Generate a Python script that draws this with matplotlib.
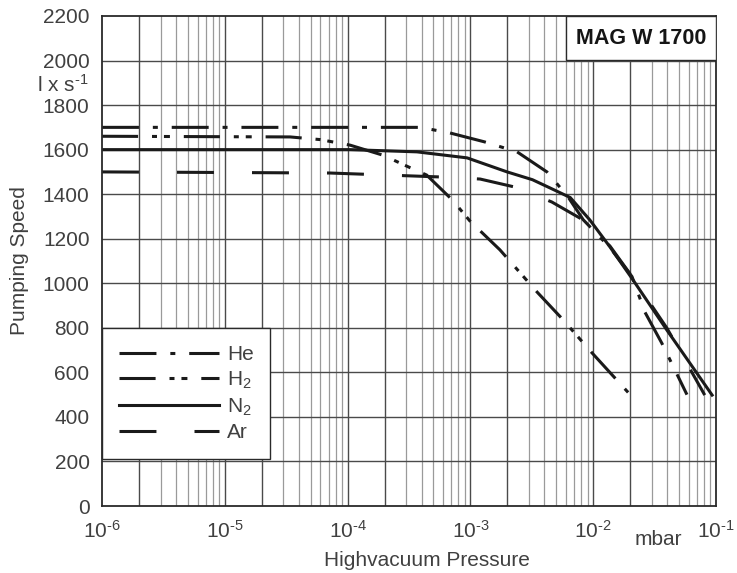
import numpy as np
import matplotlib
matplotlib.use("Agg")
import matplotlib.pyplot as plt
from matplotlib.patches import Rectangle
from matplotlib.ticker import LogLocator, FixedLocator, FuncFormatter

plt.rcParams['font.family'] = ['Liberation Sans', 'DejaVu Sans']
plt.rcParams['mathtext.fontset'] = 'custom'
plt.rcParams['mathtext.rm'] = 'Liberation Sans'
plt.rcParams['mathtext.it'] = 'Liberation Sans:italic'
plt.rcParams['mathtext.bf'] = 'Liberation Sans:bold'
plt.rcParams['axes.unicode_minus'] = False
plt.rcParams['lines.scale_dashes'] = False

# ==============================
# data (pressure in mbar, speed in l/s)
# ==============================
he_p = [1.0e-6, 3.9e-4, 6.8e-4, 1.3e-3, 2.4e-3, 4.2e-3, 6.2e-3, 8.3e-3,
        1.37e-2, 2.07e-2, 2.64e-2, 3.63e-2, 5.8e-2]
he_s = [1700, 1700, 1675, 1635, 1590, 1500, 1390, 1285,
        1160, 1030, 870, 730, 500]

h2_p = [1.0e-6, 3.4e-5, 6.0e-5, 1.05e-4, 1.94e-4, 3.2e-4, 4.4e-4, 7.1e-4,
        9.9e-4, 1.74e-3, 3.5e-3, 5.6e-3, 9.8e-3, 2.0e-2]
h2_s = [1660, 1657, 1645, 1620, 1575, 1520, 1486, 1375,
        1280, 1150, 960, 840, 687, 500]

n2_p = [1.0e-6, 1.05e-4, 3.67e-4, 9.4e-4, 1.99e-3, 3.2e-3, 4.45e-3, 6.5e-3,
        9.4e-3, 1.37e-2, 2.11e-2, 3.98e-2, 9.3e-2]
n2_s = [1600, 1600, 1590, 1563, 1500, 1465, 1428, 1385,
        1284, 1163, 1015, 790, 498]

ar_p = [1.0e-6, 7.2e-5, 5.9e-4, 1.2e-3, 2.3e-3, 4.6e-3, 8.3e-3,
        1.37e-2, 2.11e-2, 3.98e-2, 8.1e-2]
ar_s = [1500, 1495, 1477, 1468, 1432, 1365, 1284,
        1167, 1024, 799, 498]

gas_labels = ['He', 'H$_2$', 'N$_2$', 'Ar']
y_ticks = [0, 200, 400, 600, 800, 1000, 1200, 1400, 1600, 1800, 2000, 2200]
title_text = 'MAG W 1700'

# ==============================
# figure
# ==============================
fig = plt.figure(figsize=(7.37, 5.73), dpi=100)
ax = fig.add_axes([0.1384, 0.1169, 0.8331, 0.8552])

txt_col = '#404040'
line_col = '#1a1a1a'
lw = 2.2

# dash patterns (points)
he_dash = (0, (26.6, 10, 3.6, 10))
h2_dash = (0, (26, 10, 3.6, 5, 4.3, 10))
ar_dash = (0, (26.6, 27.4))

ax.plot(he_p, he_s, color=line_col, lw=lw, linestyle=he_dash, label=gas_labels[0])
ax.plot(h2_p, h2_s, color=line_col, lw=lw, linestyle=h2_dash, label=gas_labels[1])
ax.plot(n2_p, n2_s, color=line_col, lw=lw, linestyle='-', label=gas_labels[2])
ax.plot(ar_p, ar_s, color=line_col, lw=lw, linestyle=ar_dash, label=gas_labels[3])

ax.set_xscale('log')
ax.set_xlim(1e-6, 1e-1)
ax.set_ylim(0, 2200)
ax.yaxis.set_major_locator(FixedLocator(y_ticks))
ax.xaxis.set_major_locator(LogLocator(base=10, numticks=10))
ax.xaxis.set_minor_locator(LogLocator(base=10, subs=np.arange(2, 10), numticks=20))
ax.xaxis.set_major_formatter(
    FuncFormatter(lambda v, pos: r'$10^{\text{-}%d}$' % round(-np.log10(v))))

# grid: darker on decades and 2x lines
for dec in range(-6, -1):
    for m in range(1, 10):
        xv = m * 10.0 ** dec
        if xv <= 1e-6:
            continue
        dark = m in (1, 2)
        ax.axvline(xv, color='#4a4a4a' if dark else '#9a9a9a',
                   lw=1.0 if dark else 0.9, zorder=0.5)
for yv in y_ticks[1:-1]:
    ax.axhline(yv, color='#4a4a4a', lw=1.0, zorder=0.5)

ax.tick_params(which='both', length=0, labelsize=15, colors=txt_col)
ax.tick_params(axis='y', pad=9)
ax.tick_params(axis='x', pad=10)
for s in ax.spines.values():
    s.set_color('#2a2a2a')
    s.set_linewidth(1.3)

ax.set_ylabel('Pumping Speed', fontsize=15, color=txt_col, labelpad=10)
ax.set_xlabel('Highvacuum Pressure', fontsize=15, color=txt_col)
ax.xaxis.set_label_coords(0.529, -0.092)

fig.text(89 / 737, 1 - 85 / 573, r'l x s$^{\text{-}1}$', fontsize=15, color=txt_col,
         ha='right', va='center')
fig.text(658 / 737, 1 - 545 / 573, 'mbar', fontsize=15, color=txt_col,
         ha='center', va='baseline')

# title box top right
ax.add_patch(Rectangle((0.7557, 0.910), 0.2443, 0.090, transform=ax.transAxes,
                       facecolor='white', edgecolor='#2a2a2a', lw=1.0, zorder=6))
ax.text(0.8778, 0.955, title_text, transform=ax.transAxes, fontsize=15.5,
        fontweight='bold', color='#151515', ha='center', va='center', zorder=7)

leg = ax.legend(loc='upper left', bbox_to_anchor=(0, 0.363), borderaxespad=0,
                fontsize=15, handlelength=4.8, handletextpad=0.4,
                labelspacing=0.27, borderpad=0.8, fancybox=False,
                framealpha=1, edgecolor='#2a2a2a')
leg.get_frame().set_linewidth(1.0)
for t in leg.get_texts():
    t.set_color(txt_col)

fig.savefig('out.png', dpi=100)
